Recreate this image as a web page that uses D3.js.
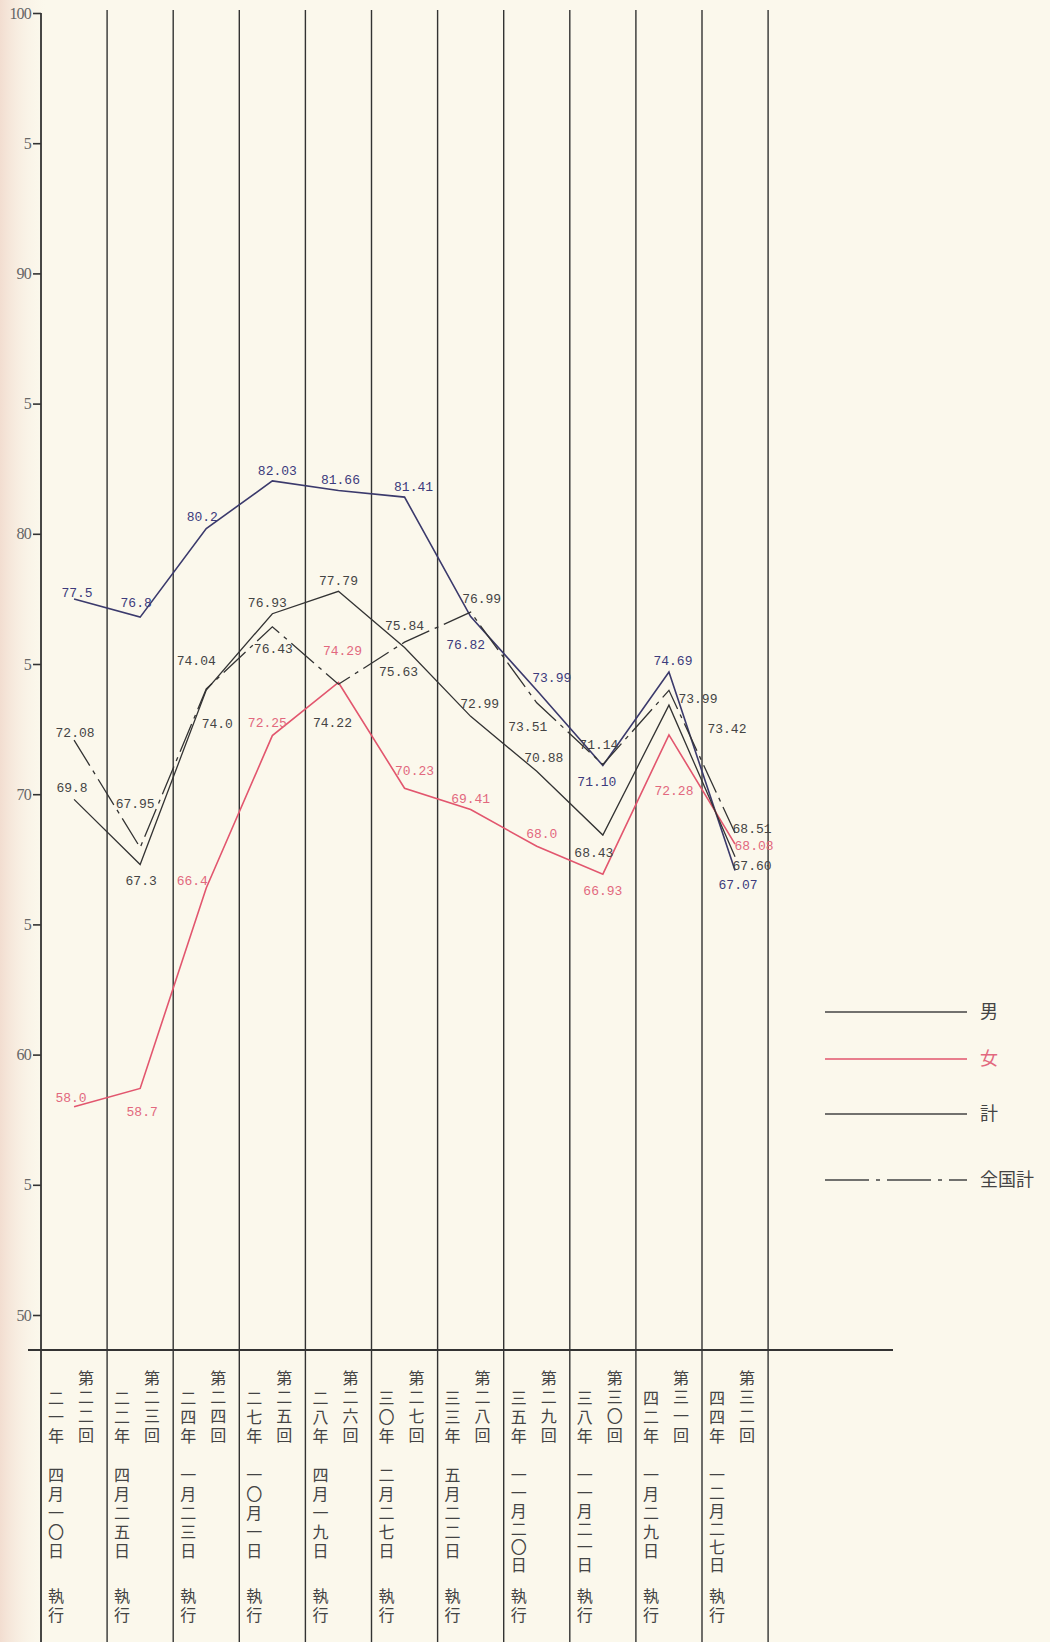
<!DOCTYPE html>
<html>
<head>
    <meta charset="utf-8">
    <script src="https://cdn.jsdelivr.net/npm/d3@7"></script>
    <title></title>
    <style>
        * {
            margin: 0;
            padding: 0;
        }

        body {
            background: #fbf8ec;
        }

        #chart {
            display: block;
        }
    </style>
</head>
<body>

    <svg id="chart" width="1050" height="1642"></svg>

    <script>
        // election rounds and their dates (kanji numerals, as printed)
        var rounds = ["第二二回", "第二三回", "第二四回", "第二五回", "第二六回", "第二七回",
            "第二八回", "第二九回", "第三〇回", "第三一回", "第三二回"];
        var years = ["二一年", "二二年", "二四年", "二七年", "二八年", "三〇年",
            "三三年", "三五年", "三八年", "四二年", "四四年"];
        var dates = ["四月一〇日", "四月二五日", "一月二三日", "一〇月一日", "四月一九日", "二月二七日",
            "五月二二日", "一一月二〇日", "一一月二一日", "一月二九日", "一二月二七日"];

        // turnout (%), kept as printed so labels keep their digits
        var male = ["77.5", "76.8", "80.2", "82.03", "81.66", "81.41", "76.82", "73.99", "71.10", "74.69", "67.07"];
        var female = ["58.0", "58.7", "66.4", "72.25", "74.29", "70.23", "69.41", "68.0", "66.93", "72.28", "68.08"];
        var total = ["69.8", "67.3", "74.0", "76.93", "77.79", "75.63", "72.99", "70.88", "68.43", "73.42", "67.60"];
        var national = ["72.08", "67.95", "74.04", "76.43", "74.22", "75.84", "76.99", "73.51", "71.14", "73.99", "68.51"];

        var yTicks = [50, 55, 60, 65, 70, 75, 80, 85, 90, 95, 100];
        var legendNames = ["男", "女", "計", "全国計"];

        // hand placed label offsets (dx, dy) from each point, like the printed chart
        var maleOff = [[3, -2], [-4, -10], [-4, -8], [5, -6], [2, -7], [9, -6], [-5, 32], [15, -8], [-6, 20], [4, -7], [3, 19]];
        var femaleOff = [[-3, -5], [2, 28], [-14, -3], [-5, -9], [4, -27], [10, -13], [0, -7], [5, -8], [0, 21], [5, 60], [19, 6]];
        var totalOff = [[-2, -7], [1, 20], [11, 38], [-5, -7], [0, -6], [-6, 28], [9, -8], [7, -9], [-9, 22], [58, 28], [17, 13]];
        var nationalOff = [[1, -3], [-5, -40], [-10, -24], [1, 26], [-6, 43], [0, -12], [11, -9], [-9, 28], [-4, -16], [29, 13], [17, 0]];

        var svg = d3.select("#chart");
        var W = 1050, H = 1642;

        // paper
        var defs = svg.append("defs");
        var grad = defs.append("linearGradient").attr("id", "edge");
        grad.append("stop").attr("offset", "0%").attr("stop-color", "#f2ddd0");
        grad.append("stop").attr("offset", "100%").attr("stop-color", "#fbf8ec").attr("stop-opacity", 0);
        svg.append("rect").attr("width", W).attr("height", H).attr("fill", "#fbf8ec");
        svg.append("rect").attr("width", 48).attr("height", H).attr("fill", "url(#edge)");

        var x = d3.scaleBand()
            .domain(rounds)
            .range([41, 41 + 66.1 * rounds.length])
            .padding(0);
        var cx = function (i) { return x(rounds[i]) + x.bandwidth() / 2; };

        var y = d3.scaleLinear()
            .domain([50, 100])
            .range([1315, 13]);

        var ink = "#333";

        // column rules
        svg.append("g").selectAll("line")
            .data(rounds)
            .enter()
            .append("line")
            .attr("x1", function (d) { return x(d) + x.bandwidth(); })
            .attr("x2", function (d) { return x(d) + x.bandwidth(); })
            .attr("y1", 10)
            .attr("y2", H)
            .attr("stroke", ink)
            .attr("stroke-width", 1.4);

        // y axis
        var axisG = svg.append("g")
            .attr("transform", "translate(41,0)")
            .call(d3.axisLeft(y)
                .tickValues(yTicks)
                .tickSize(8)
                .tickPadding(2)
                .tickFormat(function (d) { return d % 10 === 0 ? d : "5"; }));
        axisG.select(".domain").remove();
        axisG.selectAll(".tick line").attr("stroke", ink).attr("stroke-width", 1.6);
        axisG.selectAll(".tick text")
            .attr("fill", "#666")
            .style("font-family", "'Liberation Serif', serif")
            .style("font-size", "16px")
            .style("letter-spacing", "-0.8px");
        svg.append("line")
            .attr("x1", 41).attr("x2", 41)
            .attr("y1", y(100)).attr("y2", H)
            .attr("stroke", ink).attr("stroke-width", 1.8);

        // base rule under the plot
        svg.append("line")
            .attr("x1", 28).attr("x2", 893)
            .attr("y1", 1350).attr("y2", 1350)
            .attr("stroke", ink).attr("stroke-width", 2);

        // category labels, written vertically
        var cat = svg.append("g")
            .style("font-family", "'Noto Sans CJK JP', sans-serif")
            .style("font-size", "16px")
            .style("writing-mode", "vertical-rl")
            .style("letter-spacing", "3px")
            .attr("fill", "#444");
        rounds.forEach(function (r, i) {
            var left = x(r);
            cat.append("text").attr("x", left + 45).attr("y", 1370).text(r);
            cat.append("text").attr("x", left + 15).attr("y", 1390).text(years[i]);
            cat.append("text").attr("x", left + 15).attr("y", 1467)
                .style("letter-spacing", dates[i].length > 5 ? "2px" : "3px")
                .text(dates[i]);
            cat.append("text").attr("x", left + 15).attr("y", 1588).text("執行");
        });

        var series = [
            { name: "男", values: male, off: maleOff, color: "#3b3a6c", label: "#3c3b7c", width: 1.6, dash: null },
            { name: "女", values: female, off: femaleOff, color: "#e2566e", label: "#e2687e", width: 1.6, dash: null },
            { name: "計", values: total, off: totalOff, color: "#333", label: "#444", width: 1.3, dash: null },
            { name: "全国計", values: national, off: nationalOff, color: "#333", label: "#444", width: 1.3, dash: "30,6,4,6" }
        ];

        var line = d3.line()
            .x(function (d, i) { return cx(i); })
            .y(function (d) { return y(+d); });

        svg.append("g").selectAll("path")
            .data(series)
            .enter()
            .append("path")
            .attr("d", function (s) { return line(s.values); })
            .attr("fill", "none")
            .attr("stroke", function (s) { return s.color; })
            .attr("stroke-width", function (s) { return s.width; })
            .attr("stroke-dasharray", function (s) { return s.dash; });

        // value labels
        series.forEach(function (s) {
            svg.append("g").selectAll("text")
                .data(s.values)
                .enter()
                .append("text")
                .attr("x", function (d, i) { return cx(i) + s.off[i][0]; })
                .attr("y", function (d, i) { return y(+d) + s.off[i][1]; })
                .attr("text-anchor", "middle")
                .attr("fill", s.label)
                .style("font-family", "'Liberation Mono', monospace")
                .style("font-size", "13px")
                .text(function (d) { return d; });
        });

        // legend
        var legendY = [1012, 1059, 1114, 1180];
        var leg = svg.append("g").selectAll("g")
            .data(series)
            .enter()
            .append("g")
            .attr("transform", function (d, i) { return "translate(825," + legendY[i] + ")"; });
        leg.append("line")
            .attr("x1", 0).attr("x2", 142)
            .attr("stroke", function (s, i) { return i === 1 ? s.color : "#444"; })
            .attr("stroke-width", 1.5)
            .attr("stroke-dasharray", function (s) { return s.dash ? "44,7,4,7" : null; });
        leg.append("text")
            .attr("x", 155)
            .attr("dy", "0.35em")
            .attr("fill", function (s, i) { return i === 1 ? s.label : "#444"; })
            .style("font-family", "'Noto Sans CJK JP', sans-serif")
            .style("font-size", "18px")
            .text(function (s, i) { return legendNames[i]; });
    </script>
</body>
</html>
